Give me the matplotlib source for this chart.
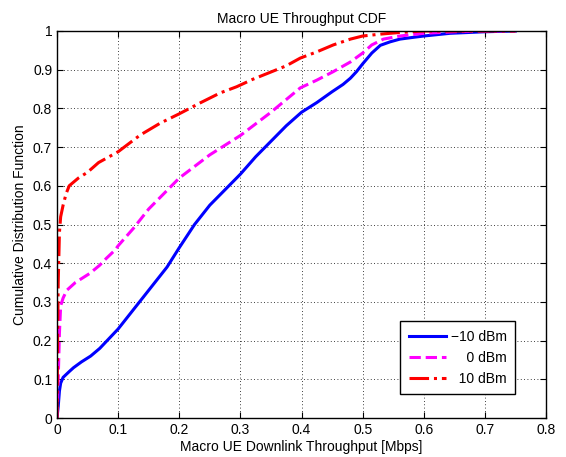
import matplotlib
matplotlib.use('Agg')
import matplotlib.pyplot as plt

plt.rcParams['font.family'] = ['Liberation Sans', 'DejaVu Sans']
plt.rcParams['font.size'] = 10

# -10 dBm 곡선
x_m10 = [0, 0.002, 0.004, 0.006, 0.01, 0.02, 0.027, 0.04, 0.055, 0.07, 0.085, 0.1,
         0.12, 0.14, 0.16, 0.18, 0.2, 0.225, 0.25, 0.275, 0.3, 0.325, 0.35, 0.375,
         0.4, 0.425, 0.45, 0.468, 0.48, 0.49, 0.5, 0.515, 0.529, 0.545, 0.561, 0.58,
         0.6, 0.643, 0.7, 0.75]
y_m10 = [0, 0.03, 0.07, 0.09, 0.105, 0.12, 0.13, 0.145, 0.16, 0.18, 0.205, 0.23,
         0.27, 0.31, 0.35, 0.39, 0.44, 0.5, 0.55, 0.59, 0.63, 0.675, 0.715, 0.755,
         0.79, 0.815, 0.843, 0.862, 0.878, 0.895, 0.915, 0.943, 0.963, 0.972, 0.979, 0.983,
         0.987, 0.994, 0.998, 1.0]

# 0 dBm 곡선
x_0 = [0, 0.002, 0.004, 0.006, 0.01, 0.016, 0.03, 0.054, 0.07, 0.081, 0.095, 0.1,
       0.125, 0.15, 0.175, 0.2, 0.25, 0.3, 0.35, 0.398, 0.425, 0.452, 0.48, 0.5,
       0.515, 0.534, 0.561, 0.6, 0.65, 0.7, 0.75]
y_0 = [0, 0.1, 0.22, 0.29, 0.31, 0.33, 0.35, 0.374, 0.395, 0.413, 0.434, 0.445,
       0.49, 0.54, 0.58, 0.62, 0.68, 0.73, 0.79, 0.853, 0.873, 0.895, 0.92, 0.943,
       0.964, 0.979, 0.987, 0.994, 0.998, 1.0, 1.0]

# 10 dBm 곡선
x_10 = [0, 0.001, 0.002, 0.004, 0.006, 0.01, 0.015, 0.02, 0.035, 0.05, 0.068, 0.1,
        0.136, 0.169, 0.2, 0.234, 0.267, 0.294, 0.32, 0.35, 0.375, 0.398, 0.425,
        0.452, 0.48, 0.5, 0.53, 0.56, 0.6, 0.7, 0.75]
y_10 = [0, 0.2, 0.35, 0.48, 0.52, 0.55, 0.58, 0.6, 0.62, 0.635, 0.66, 0.688,
        0.731, 0.762, 0.786, 0.814, 0.84, 0.856, 0.875, 0.894, 0.91, 0.93, 0.946,
        0.964, 0.979, 0.987, 0.992, 0.996, 1.0, 1.0, 1.0]

labels = ['\u221210 dBm', '    0 dBm', '  10 dBm']
x_ticks = [0, 0.1, 0.2, 0.3, 0.4, 0.5, 0.6, 0.7, 0.8]
x_tick_labels = ['0', '0.1', '0.2', '0.3', '0.4', '0.5', '0.6', '0.7', '0.8']
y_ticks = [0, 0.1, 0.2, 0.3, 0.4, 0.5, 0.6, 0.7, 0.8, 0.9, 1]
y_tick_labels = ['0', '0.1', '0.2', '0.3', '0.4', '0.5', '0.6', '0.7', '0.8', '0.9', '1']

fig = plt.figure(figsize=(5.66, 4.57), dpi=100)
ax = fig.add_axes([0.1007, 0.0853, 0.8640, 0.8469])

ax.plot(x_m10, y_m10, color='blue', linestyle='-', linewidth=2.2, label=labels[0])
ax.plot(x_0, y_0, color='magenta', linestyle='--', linewidth=2.2, label=labels[1])
ax.plot(x_10, y_10, color='red', linestyle='-.', linewidth=2.2, label=labels[2])

ax.set_xlim(0, 0.8)
ax.set_ylim(0, 1)
ax.set_xticks(x_ticks)
ax.set_xticklabels(x_tick_labels)
ax.set_yticks(y_ticks)
ax.set_yticklabels(y_tick_labels)
ax.tick_params(direction='in', top=True, right=True, length=4, width=0.8)
ax.grid(True, linestyle=(0, (1, 3)), color='black', linewidth=0.6)
for s in ax.spines.values():
    s.set_linewidth(1.0)

ax.set_title('Macro UE Throughput CDF', fontsize=10)
ax.set_xlabel('Macro UE Downlink Throughput [Mbps]', labelpad=2)
ax.set_ylabel('Cumulative Distribution Function', labelpad=4)

leg = ax.legend(loc='lower right', bbox_to_anchor=(0.937, 0.062), fancybox=False,
                edgecolor='black', framealpha=1, handlelength=2.7, handletextpad=0.35,
                borderpad=0.6, borderaxespad=0)
leg.get_frame().set_linewidth(1.0)

fig.savefig('out.png', dpi=100)
